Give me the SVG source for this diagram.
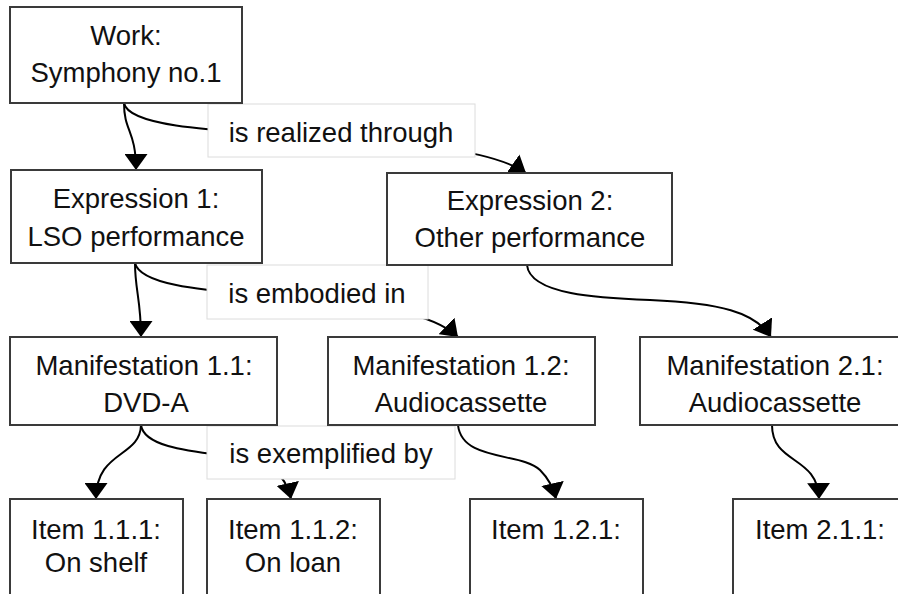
<svg xmlns="http://www.w3.org/2000/svg" width="898" height="594" viewBox="0 0 898 594">
<style>
.box{fill:#fff;stroke:#3a3a3a;stroke-width:2}
.lbl{fill:#fff;stroke:#dcdcdc;stroke-width:1}
.t{font-family:"Liberation Sans",Arial,sans-serif;font-size:27.5px;fill:#111;text-anchor:middle}
.c{fill:none;stroke:#000;stroke-width:2}
</style>
<defs>
<marker id="ah" viewBox="0 0 16 23" refX="16" refY="11.5" markerWidth="16" markerHeight="23" markerUnits="userSpaceOnUse" orient="auto">
<path d="M0,0 L16,11.5 L0,23 z" fill="#000"/>
</marker>
</defs>
<rect width="898" height="594" fill="#fff"/>
<g id="connectors">
<path class="c" marker-end="url(#ah)" d="M124,103 C124,132 136,130 136,170"/>
<path class="c" marker-end="url(#ah)" d="M124,103 C128,125 200,130 300,136 C400,142 490,148 526,173"/>
<path class="c" marker-end="url(#ah)" d="M135,263 C135,290 141,300 141,337"/>
<path class="c" marker-end="url(#ah)" d="M135,263 C140,285 200,290 280,298 C370,306 430,310 458,337"/>
<path class="c" marker-end="url(#ah)" d="M527,265 C530,295 600,298 650,300 C720,303 755,312 771,337"/>
<path class="c" marker-end="url(#ah)" d="M141,425 C140,458 96,450 96,499"/>
<path class="c" marker-end="url(#ah)" d="M141,425 C145,455 230,452 260,462 C280,470 288,485 291,499"/>
<path class="c" marker-end="url(#ah)" d="M458,425 C462,462 522,452 540,470 C550,480 554,490 556,499"/>
<path class="c" marker-end="url(#ah)" d="M772,425 C772,465 818,455 819,499"/>
<g id="label-realized"><rect class="lbl" x="208" y="104" width="267" height="53"/><text class="t" x="341" y="142">is realized through</text></g>
<g id="label-embodied"><rect class="lbl" x="207" y="265" width="221" height="54"/><text class="t" x="317" y="303">is embodied in</text></g>
<g id="label-exemplified"><rect class="lbl" x="207" y="426" width="248" height="53"/><text class="t" x="331" y="463">is exemplified by</text></g>
</g>
<g id="work"><rect class="box" x="10" y="7" width="232" height="96"/><text class="t" x="126" y="45">Work:</text><text class="t" x="126" y="82">Symphony no.1</text></g>
<g id="expression1"><rect class="box" x="11" y="170" width="251" height="93"/><text class="t" x="136" y="208">Expression 1:</text><text class="t" x="136" y="246">LSO performance</text></g>
<g id="expression2"><rect class="box" x="387" y="173" width="285" height="92"/><text class="t" x="530" y="210">Expression 2:</text><text class="t" x="530" y="247">Other performance</text></g>
<g id="manifestation11"><rect class="box" x="10" y="337" width="267" height="88"/><text class="t" x="144" y="375">Manifestation 1.1:</text><text class="t" x="146" y="412">DVD-A</text></g>
<g id="manifestation12"><rect class="box" x="328" y="337" width="267" height="88"/><text class="t" x="461" y="375">Manifestation 1.2:</text><text class="t" x="461" y="412">Audiocassette</text></g>
<g id="manifestation21"><rect class="box" x="640" y="337" width="270" height="88"/><text class="t" x="775" y="375">Manifestation 2.1:</text><text class="t" x="775" y="412">Audiocassette</text></g>
<g id="item111"><rect class="box" x="10" y="499" width="173" height="110"/><text class="t" x="96" y="539">Item 1.1.1:</text><text class="t" x="96" y="572">On shelf</text></g>
<g id="item112"><rect class="box" x="207" y="499" width="173" height="110"/><text class="t" x="293" y="539">Item 1.1.2:</text><text class="t" x="293" y="572">On loan</text></g>
<g id="item121"><rect class="box" x="470" y="499" width="173" height="110"/><text class="t" x="556" y="539">Item 1.2.1:</text></g>
<g id="item211"><rect class="box" x="733" y="499" width="174" height="110"/><text class="t" x="820" y="539">Item 2.1.1:</text></g>
</svg>
